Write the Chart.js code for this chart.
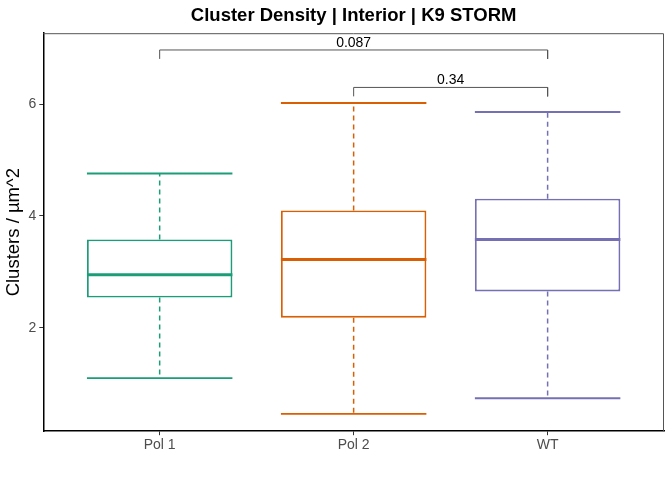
<!DOCTYPE html>
<html>
<head>
<meta charset="utf-8">
<script src="https://cdn.jsdelivr.net/npm/chart.js@4"></script>
<style>
  html, body { margin: 0; padding: 0; background: #fff; }
  #wrap { width: 672px; height: 480px; }
</style>
</head>
<body>
<div id="wrap"><canvas id="c" width="672" height="480"></canvas></div>
<script>
// ---- data ----
const categories = ["Pol 1", "Pol 2", "WT"];
const whiskerMin = [1.10, 0.46, 0.74];
const q1Values   = [2.54, 2.18, 2.65];
const medians    = [2.95, 3.22, 3.58];
const q3Values   = [3.58, 4.10, 4.31];
const whiskerMax = [4.76, 6.02, 5.86];
const yTicks = [2, 4, 6];
// significance comparisons
const compA = [1, 2];
const compB = [3, 3];
const compY = [6.97, 6.30];
const compLabels = ["0.087", "0.34"];

const colors = ["#1B9E77", "#D95F02", "#7570B3"];
const halfW = 0.375;
const tickDrop = 0.16;
const FONT = '"Liberation Sans", Arial, sans-serif';

const datasets = [];
datasets.push({
  type: 'bar',
  data: categories.map((c, i) => ({ x: i + 1, y: [q1Values[i], q3Values[i]] })),
  backgroundColor: '#ffffff',
  borderColor: colors,
  borderWidth: 1.9,
  borderSkipped: false,
  barPercentage: 0.75,
  categoryPercentage: 1.0,
  order: 3
});
categories.forEach((c, i) => {
  const x = i + 1;
  datasets.push({
    type: 'line',
    data: [{x, y: q3Values[i]}, {x, y: whiskerMax[i]}, {x, y: null}, {x, y: q1Values[i]}, {x, y: whiskerMin[i]}],
    borderColor: colors[i], borderWidth: 1.5, borderDash: [5, 4],
    pointRadius: 0, spanGaps: false, order: 2
  });
  datasets.push({
    type: 'line',
    data: [{x: x - halfW, y: whiskerMax[i]}, {x: x + halfW, y: whiskerMax[i]}, {x, y: null},
           {x: x - halfW, y: whiskerMin[i]}, {x: x + halfW, y: whiskerMin[i]}],
    borderColor: colors[i], borderWidth: 1.9,
    pointRadius: 0, spanGaps: false, order: 1
  });
  datasets.push({
    type: 'line',
    data: [{x: x - halfW, y: medians[i]}, {x: x + halfW, y: medians[i]}],
    borderColor: colors[i], borderWidth: 3,
    pointRadius: 0, order: 0
  });
});
compLabels.forEach((lab, k) => {
  datasets.push({
    type: 'line',
    data: [{x: compA[k], y: compY[k] - tickDrop}, {x: compA[k], y: compY[k]},
           {x: compB[k], y: compY[k]}, {x: compB[k], y: compY[k] - tickDrop}],
    borderColor: '#555555', borderWidth: 1,
    pointRadius: 0, order: 0
  });
});

const decor = {
  id: 'decor',
  afterDatasetsDraw(chart) {
    const {ctx, chartArea: a, scales: {x, y}} = chart;
    ctx.save();
    ctx.strokeStyle = '#555555';
    ctx.lineWidth = 1;
    ctx.beginPath();
    ctx.moveTo(a.left, a.top + 0.5); ctx.lineTo(a.right - 0.5, a.top + 0.5);
    ctx.lineTo(a.right - 0.5, a.bottom);
    ctx.stroke();
    ctx.fillStyle = '#000000';
    ctx.font = '14px ' + FONT;
    ctx.textAlign = 'center';
    ctx.textBaseline = 'bottom';
    compLabels.forEach((lab, k) => {
      const px = x.getPixelForValue((compA[k] + compB[k]) / 2);
      const py = y.getPixelForValue(compY[k]);
      ctx.fillText(lab, px, py);
    });
    ctx.restore();
  }
};

new Chart(document.getElementById('c'), {
  data: { datasets },
  options: {
    responsive: false,
    animation: false,
    layout: { padding: { left: 5, right: 8, top: 0, bottom: 24 } },
    plugins: {
      legend: { display: false },
      tooltip: { enabled: false },
      title: {
        display: true,
        text: 'Cluster Density | Interior | K9 STORM',
        fullSize: false,
        color: '#000',
        font: { family: FONT, size: 18.5, weight: 'bold' },
        padding: { top: 5, bottom: 6 }
      }
    },
    scales: {
      x: {
        type: 'linear',
        min: 0.4, max: 3.6,
        offset: false,
        afterBuildTicks(s) { s.ticks = categories.map((c, i) => ({ value: i + 1 })); },
        ticks: {
          callback: (v) => categories[v - 1],
          color: '#4D4D4D',
          font: { family: FONT, size: 14 },
          padding: 2
        },
        grid: { display: true, offset: false, drawOnChartArea: false, drawTicks: true, tickLength: 4, tickColor: '#333', tickWidth: 1 },
        border: { display: true, color: '#000', width: 1.5 }
      },
      y: {
        type: 'linear',
        min: 0.15, max: 7.27,
        afterBuildTicks(s) { s.ticks = yTicks.map(v => ({ value: v })); },
        ticks: {
          color: '#4D4D4D',
          font: { family: FONT, size: 14 },
          padding: 3
        },
        title: {
          display: true,
          text: 'Clusters / µm^2',
          color: '#000',
          font: { family: FONT, size: 18.5, lineHeight: 1.0 },
          padding: { top: 0, bottom: 2 }
        },
        grid: { display: true, offset: false, drawOnChartArea: false, drawTicks: true, tickLength: 4, tickColor: '#333', tickWidth: 1 },
        border: { display: true, color: '#000', width: 1.5 }
      }
    }
  },
  plugins: [decor]
});
</script>
</body>
</html>
